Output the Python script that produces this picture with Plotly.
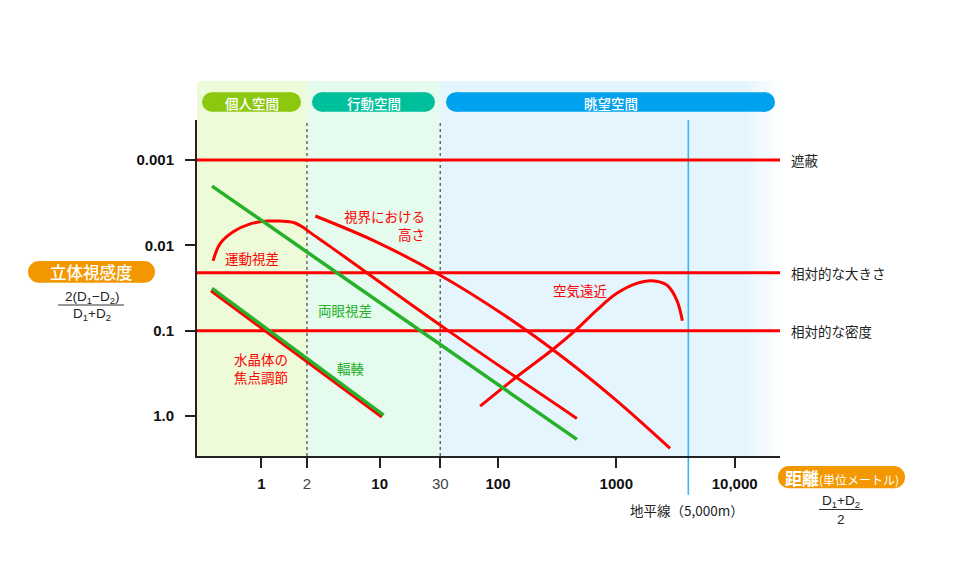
import math
import plotly.graph_objects as go

# ---- values (x: distance in m, y: stereo acuity, both log) ----
binocular_x = [0.383, 464]
binocular_y = [0.00202, 1.88]

convergence_x = [0.383, 10.8]
convergence_y = [0.0319, 0.976]

accommodation_x = [0.376, 10.46]
accommodation_y = [0.034, 1.02]

motion_x = [0.391, 0.45, 0.583, 0.807, 1.117, 1.447, 1.875, 2.277, 2.594, 3.826, 39.5, 464]
motion_y = [0.0152, 0.0095, 0.0069, 0.0056, 0.0052, 0.0052, 0.0054, 0.0062, 0.0071, 0.01035, 0.104, 1.067]

height_x = [2.858, 9.18, 32.5, 115, 369.5, 977, 2847]
height_y = [0.00453, 0.00898, 0.0224, 0.0669, 0.2147, 0.639, 2.398]

aerial_x = [70.7, 144, 294, 449, 684, 1010, 1490, 1994, 2670, 3243, 3616]
aerial_y = [0.766, 0.347, 0.164, 0.100, 0.0573, 0.0365, 0.0279, 0.0260, 0.0292, 0.0438, 0.0766]

threshold_y = [0.001, 0.021, 0.1]
threshold_labels = ["遮蔽", "相対的な大きさ", "相対的な密度"]

zone_edges = [0.286, 2.43, 32.5, 12240]
zone_names = ["個人空間", "行動空間", "眺望空間"]
horizon_x = 4060

x_tickvals = [1, 2.43, 10, 32.5, 100, 1000, 10000]
x_ticktext = ["<b>1</b>", "<span style='color:#444'>2</span>", "<b>10</b>",
              "<span style='color:#444'>30</span>", "<b>100</b>", "<b>1000</b>", "<b>10,000</b>"]
y_tickvals = [0.001, 0.01, 0.1, 1]
y_ticktext = ["<b>0.001</b>", "<b>0.01</b>", "<b>0.1</b>", "<b>1.0</b>"]

X_RANGE = [0.286, 24170]

# ---- layout helpers ----
W, H = 960, 564
L, R, T, B = 197, 180, 120, 108
JP = "Noto Sans CJK JP"
RED = "#ff0000"
GREEN = "#27b02a"
zone_colors = ["#edfbd9", "#e5fbee", "#e4f5fd"]
pill_colors = ["#8cc80f", "#00bf9b", "#00a2ed"]


def px(x):
    return (x - L) / (W - L - R)


def py(y):
    return (H - B - y) / (H - T - B)


shapes = []
annotations = []


def pill(x0, x1, yc, h, color):
    r = h / 2
    shapes.append(dict(type="rect", xref="paper", yref="paper", x0=px(x0 + r), x1=px(x1 - r),
                       y0=py(yc + r), y1=py(yc - r), fillcolor=color, line_width=0))
    for cx in (x0 + r, x1 - r):
        shapes.append(dict(type="circle", xref="paper", yref="paper", x0=px(cx - r), x1=px(cx + r),
                           y0=py(yc + r), y1=py(yc - r), fillcolor=color, line_width=0))


def text(s, x, y, size, color="#222", family=JP, xanchor="center", align="center", weight="normal"):
    annotations.append(dict(text=s, xref="paper", yref="paper", x=px(x), y=py(y), showarrow=False,
                            xanchor=xanchor, yanchor="middle", align=align,
                            font=dict(size=size, color=color, family=family, weight=weight)))


# zone backgrounds (extend above the plot)
for i, c in enumerate(zone_colors):
    shapes.append(dict(type="rect", xref="x", yref="paper", x0=zone_edges[i], x1=zone_edges[i + 1],
                       y0=0, y1=py(81), fillcolor=c, line_width=0, layer="below"))
# fade of the last zone to white
n = 14
for i in range(n):
    t = (i + 0.5) / n
    c0 = (0xe4, 0xf5, 0xfd)
    col = "rgb(%d,%d,%d)" % tuple(round(a + (255 - a) * t) for a in c0)
    shapes.append(dict(type="rect", xref="paper", yref="paper", x0=px(745 + 35 * i / n),
                       x1=px(745 + 35 * (i + 1) / n) + 0.001, y0=0, y1=py(81),
                       fillcolor=col, line_width=0, layer="below"))
# zone boundaries
for xe in zone_edges[1:3]:
    shapes.append(dict(type="line", xref="x", yref="paper", x0=xe, x1=xe, y0=0, y1=1,
                       line=dict(color="#555", width=1.3, dash="3px,3px"), layer="below"))
# horizon
shapes.append(dict(type="line", xref="x", yref="paper", x0=horizon_x, x1=horizon_x, y0=py(495), y1=1,
                   line=dict(color="#3db6f0", width=1.6), layer="below"))

# zone pills
for (x0, x1), name, c in zip([(202, 301), (312, 435), (446, 775)], zone_names, pill_colors):
    pill(x0, x1, 102, 19.4, c)
    text(name, (x0 + x1) / 2, 102.5, 13.5, "white", weight=500)

# axis title pills
pill(28, 155, 271.8, 21.7, "#f39800")
text("立体視感度", 91.5, 272, 16.5, "white", weight=500)
text("2(D<sub>1</sub>−D<sub>2</sub>)", 91.5, 297, 13.5, family="Liberation Sans")
shapes.append(dict(type="line", xref="paper", yref="paper", x0=px(58), x1=px(124), y0=py(305), y1=py(305),
                   line=dict(color="#333", width=1)))
text("D<sub>1</sub>+D<sub>2</sub>", 91.5, 314, 13.5, family="Liberation Sans")

pill(778, 905, 477.2, 22.3, "#f39800")
text("<b><span style='font-size:17px'>距離</span></b>(単位メートル)", 841.5, 477.5, 12, "white")
text("D<sub>1</sub>+D<sub>2</sub>", 841, 501, 13.5, family="Liberation Sans")
shapes.append(dict(type="line", xref="paper", yref="paper", x0=px(819), x1=px(863), y0=py(509.5),
                   y1=py(509.5), line=dict(color="#333", width=1)))
text("2", 841, 519, 13.5, family="Liberation Sans")

text("地平線（5,000m）", 686.5, 510, 13.5)

# right-side labels for the threshold lines
for yv, lab in zip(threshold_y, threshold_labels):
    annotations.append(dict(text=lab, xref="paper", yref="y", x=px(789), y=math.log10(yv),
                            showarrow=False, xanchor="left", yanchor="middle",
                            font=dict(size=13.5, color="#222", family=JP)))

# in-plot labels
text("視界における<br>高さ", 427, 225, 13.5, RED, xanchor="right", align="right")
text("運動視差", 251.5, 258, 13.5, RED)
text("両眼視差", 345, 310, 13.5, GREEN)
text("水晶体の<br>焦点調節", 261, 368, 13.5, RED)
text("輻輳", 350.5, 368, 13.5, GREEN)
text("空気遠近", 580, 290, 13.5, RED)

fig = go.Figure()
for yv in threshold_y:
    fig.add_trace(go.Scatter(x=X_RANGE, y=[yv, yv], mode="lines", line=dict(color=RED, width=3)))
for xs, ys in [(motion_x, motion_y), (height_x, height_y), (aerial_x, aerial_y)]:
    fig.add_trace(go.Scatter(x=xs, y=ys, mode="lines", line=dict(color=RED, width=3, shape="spline")))
fig.add_trace(go.Scatter(x=accommodation_x, y=accommodation_y, mode="lines", line=dict(color=RED, width=3.5)))
fig.add_trace(go.Scatter(x=convergence_x, y=convergence_y, mode="lines", line=dict(color=GREEN, width=3.5)))
fig.add_trace(go.Scatter(x=binocular_x, y=binocular_y, mode="lines", line=dict(color=GREEN, width=3.5)))

fig.update_layout(
    width=W, height=H, margin=dict(l=L, r=R, t=T, b=B),
    paper_bgcolor="white", plot_bgcolor="rgba(0,0,0,0)",
    showlegend=False, hovermode=False,
    font=dict(family="Liberation Sans, " + JP, color="#111"),
    shapes=shapes, annotations=annotations,
)
fig.update_xaxes(type="log", range=[-0.5436, 4.3833], tickvals=x_tickvals, ticktext=x_ticktext,
                 ticks="outside", ticklen=10, tickwidth=2, tickcolor="#222", showline=True,
                 linecolor="#222", linewidth=2, showgrid=False, zeroline=False,
                 tickfont=dict(size=15, color="#111"), ticklabelstandoff=3)
fig.update_yaxes(type="log", range=[0.469, -3.469], tickvals=y_tickvals, ticktext=y_ticktext,
                 ticks="outside", ticklen=10, tickwidth=2, tickcolor="#222", showline=True,
                 linecolor="#222", linewidth=2, showgrid=False, zeroline=False,
                 tickfont=dict(size=15, color="#111"), ticklabelstandoff=8)

fig.write_html("out.html", config={"displayModeBar": False},
               post_script="document.body.style.margin='0';")
